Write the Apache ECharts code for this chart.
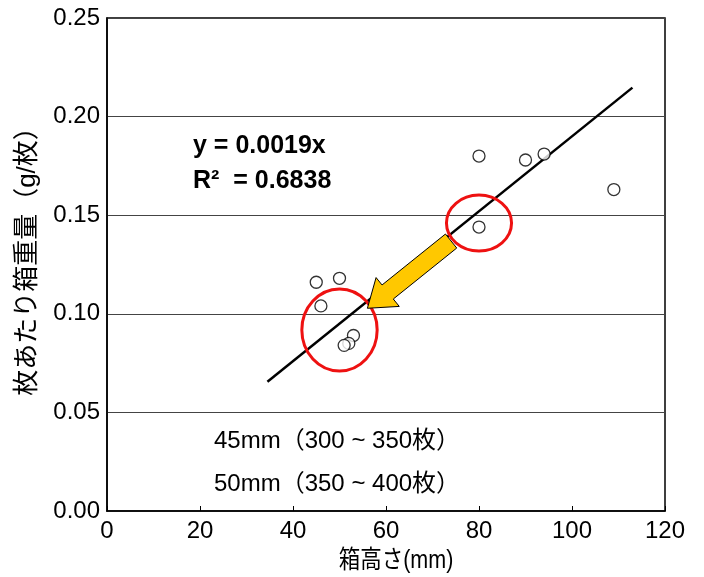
<!DOCTYPE html>
<html>
<head>
<meta charset="utf-8">
<script src="https://cdn.jsdelivr.net/npm/echarts@6/dist/echarts.min.js"></script>
<style>
  html, body { margin: 0; padding: 0; background: #fff; }
  #chart { width: 704px; height: 577px; }
</style>
</head>
<body>
<div id="chart"></div>
<script>
// Box height (mm) vs. box weight per sheet (g/sheet)
const boxHeight = [80, 90, 94, 109, 80, 45, 50, 46, 53, 52, 51];
const weightPerSheet = [0.180, 0.178, 0.181, 0.163, 0.144, 0.116, 0.118, 0.104, 0.089, 0.085, 0.084];

// Fitted line y = slope * x, drawn over this x range
const slope = 0.0019;
const fitRange = [34.5, 113];

// Axis ticks
const xTicks = [0, 20, 40, 60, 80, 100, 120];
const yTicks = [0.00, 0.05, 0.10, 0.15, 0.20, 0.25];

const equationText = 'y = 0.0019x';
const r2Text = 'R²  = 0.6838';
const noteLines = ['45mm（300 ~ 350枚）', '50mm（350 ~ 400枚）'];

// Highlight ellipses (centre x, centre y, radius x, radius y) in data units
const highlightFrom = [80, 0.146, 7.0, 0.0142];
const highlightTo = [50, 0.0918, 8.1, 0.0208];
// Arrow from the upper group toward the lower group, in data units
const arrowTail = [74.0, 0.1369];
const arrowTip = [56.0, 0.1028];

const latin = '"Liberation Sans", Arial, "Noto Sans CJK JP", sans-serif';

const chart = echarts.init(document.getElementById('chart'), null, { renderer: 'canvas' });

const fitData = fitRange.map(x => [x, slope * x]);

chart.setOption({
  animation: false,
  backgroundColor: '#ffffff',
  grid: { left: 107, right: 39, top: 18, bottom: 66, show: true, borderColor: '#000', borderWidth: 1.5, backgroundColor: 'transparent' },
  xAxis: {
    type: 'value',
    min: xTicks[0], max: xTicks[xTicks.length - 1], interval: 20,
    axisLine: { show: true, lineStyle: { color: '#000', width: 1.5 } },
    axisTick: { show: true, inside: true, length: 5, lineStyle: { color: '#000', width: 1 } },
    axisLabel: { color: '#000', fontSize: 24, fontFamily: latin, margin: 8 },
    splitLine: { show: false }
  },
  yAxis: {
    type: 'value',
    min: yTicks[0], max: yTicks[yTicks.length - 1], interval: 0.05,
    axisLine: { show: true, lineStyle: { color: '#000', width: 1.5 } },
    axisTick: { show: false },
    axisLabel: { color: '#000', fontSize: 24, fontFamily: latin, margin: 7, formatter: v => v.toFixed(2) },
    splitLine: { show: true, lineStyle: { color: '#444', width: 1 } }
  },
  series: [
    {
      type: 'line',
      data: fitData,
      showSymbol: false,
      lineStyle: { color: '#000', width: 2.5 },
      z: 2
    },
    {
      type: 'scatter',
      data: boxHeight.map((x, i) => [x, weightPerSheet[i]]),
      symbol: 'circle',
      symbolSize: 12,
      itemStyle: { color: '#fff', borderColor: '#000', borderWidth: 1.3 },
      z: 3
    }
  ]
});

function px(p) { return chart.convertToPixel({ gridIndex: 0 }, p); }

function ellipseShape(e) {
  const c = px([e[0], e[1]]);
  const r = px([e[0] + e[2], e[1] + e[3]]);
  return { cx: c[0], cy: c[1], rx: Math.abs(r[0] - c[0]), ry: Math.abs(r[1] - c[1]) };
}

function arrowPoints(tail, tip) {
  const a = px(tail), b = px(tip);
  const dx = b[0] - a[0], dy = b[1] - a[1];
  const len = Math.hypot(dx, dy);
  const ux = dx / len, uy = dy / len;
  const nx = -uy, ny = ux;
  const shaftHalf = 9, headHalf = 18.5, headLen = 26;
  const bx = b[0] - ux * headLen, by = b[1] - uy * headLen;
  return [
    [a[0] + nx * shaftHalf, a[1] + ny * shaftHalf],
    [bx + nx * shaftHalf, by + ny * shaftHalf],
    [bx + nx * headHalf, by + ny * headHalf],
    [b[0], b[1]],
    [bx - nx * headHalf, by - ny * headHalf],
    [bx - nx * shaftHalf, by - ny * shaftHalf],
    [a[0] - nx * shaftHalf, a[1] - ny * shaftHalf]
  ];
}

chart.setOption({
  graphic: [
    { type: 'ellipse', shape: ellipseShape(highlightFrom), style: { fill: 'none', stroke: '#ee1111', lineWidth: 3 }, z: 10 },
    { type: 'ellipse', shape: ellipseShape(highlightTo), style: { fill: 'none', stroke: '#ee1111', lineWidth: 3 }, z: 10 },
    { type: 'polygon', shape: { points: arrowPoints(arrowTail, arrowTip) }, style: { fill: '#ffc800', stroke: '#000', lineWidth: 1 }, z: 11 },
    { type: 'text', x: 193, y: 146, style: { text: equationText, font: 'bold 25px ' + latin, fill: '#000', verticalAlign: 'middle' }, z: 12 },
    { type: 'text', x: 193, y: 181, style: { text: r2Text, font: 'bold 25px ' + latin, fill: '#000', verticalAlign: 'middle' }, z: 12 },
    { type: 'text', x: 214, y: 441, style: { text: noteLines[0], font: '24px ' + latin, fill: '#000', verticalAlign: 'middle' }, z: 12 },
    { type: 'text', x: 214, y: 484, style: { text: noteLines[1], font: '24px ' + latin, fill: '#000', verticalAlign: 'middle' }, z: 12 },
    { type: 'text', x: 396, y: 561, scaleX: 0.86, style: { text: '箱高さ(mm)', font: '25px ' + latin, fill: '#000', align: 'center', verticalAlign: 'middle' }, z: 12 },
    { type: 'text', x: 28, y: 255, rotation: Math.PI / 2, style: { text: '枚あたり箱重量（g/枚）', font: '26px ' + latin, fill: '#000', align: 'center', verticalAlign: 'middle' }, z: 12 }
  ]
});
</script>
</body>
</html>
